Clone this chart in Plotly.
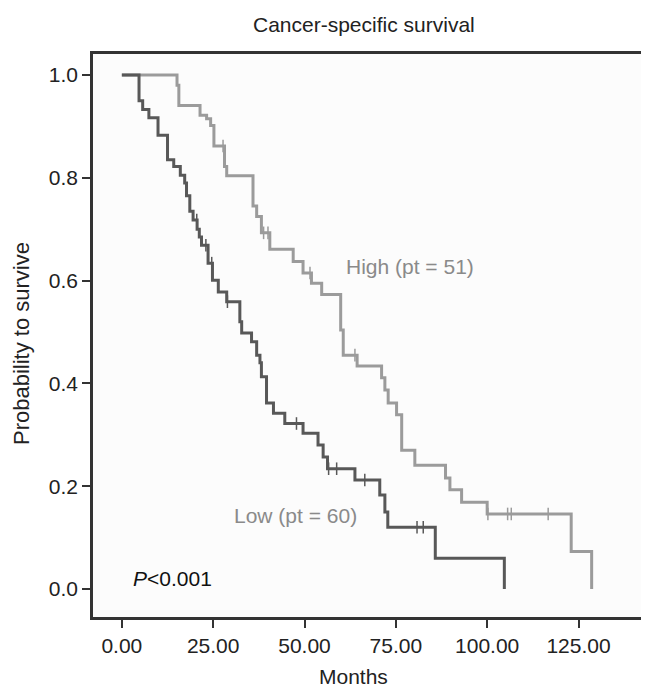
import plotly.graph_objects as go

# ---- data ----
high_t = [15.1, 15.6, 21.4, 23.2, 24.3, 25.2, 28.1, 28.7, 35.9, 36.9, 38.2, 40.5,
          46.9, 49.6, 51.9, 54.7, 59.9, 60.6, 64.4, 71.1, 72.0, 72.9, 75.2, 76.6,
          80.2, 88.6, 89.8, 93.0, 100.0, 123.0, 128.6]
high_s = [0.980, 0.941, 0.922, 0.915, 0.902, 0.862, 0.822, 0.804, 0.745, 0.725, 0.693, 0.661,
          0.637, 0.615, 0.595, 0.573, 0.504, 0.455, 0.434, 0.411, 0.387, 0.362, 0.339, 0.270,
          0.241, 0.216, 0.193, 0.169, 0.146, 0.073, 0.0]
high_cens = [27.7, 38.8, 40.0, 51.5, 63.8, 100.2, 105.6, 106.6, 116.7]

low_t = [4.7, 5.7, 7.4, 9.9, 12.5, 14.2, 16.0, 17.2, 17.7, 18.6, 19.5, 20.6, 21.2,
         21.8, 23.6, 24.8, 26.4, 28.7, 32.3, 32.8, 35.5, 36.9, 37.8, 38.2, 39.6, 41.5,
         44.6, 49.6, 53.7, 55.1, 56.3, 63.8, 70.6, 72.0, 72.8, 85.8, 104.7]
low_s = [0.950, 0.933, 0.917, 0.883, 0.835, 0.822, 0.805, 0.790, 0.765, 0.735, 0.718, 0.700, 0.685,
         0.669, 0.634, 0.601, 0.578, 0.559, 0.520, 0.498, 0.481, 0.455, 0.440, 0.413, 0.362, 0.342,
         0.322, 0.303, 0.280, 0.257, 0.234, 0.212, 0.183, 0.150, 0.120, 0.060, 0.0]
low_cens = [20.5, 23.0, 24.6, 28.9, 47.8, 56.6, 58.8, 66.5, 80.8, 82.5]

x_ticks = [0, 25, 50, 75, 100, 125]
y_ticks = [0.0, 0.2, 0.4, 0.6, 0.8, 1.0]

HIGH_COL = "#9b9b9b"
LOW_COL = "#585858"
FONT = "Liberation Sans, Arial, sans-serif"
FS = 21


def surv_at(t, times, surv):
    s = 1.0
    for ti, si in zip(times, surv):
        if ti <= t:
            s = si
    return s


fig = go.Figure()
for times, surv, cens, col in [(high_t, high_s, high_cens, HIGH_COL),
                               (low_t, low_s, low_cens, LOW_COL)]:
    fig.add_trace(go.Scatter(x=[0] + times, y=[1.0] + surv, mode="lines",
                             line=dict(color=col, width=3, shape="hv"),
                             showlegend=False, hoverinfo="skip"))
    fig.add_trace(go.Scatter(x=cens, y=[surv_at(c, times, surv) for c in cens],
                             mode="markers",
                             marker=dict(symbol="line-ns", size=9,
                                         line=dict(color=col, width=1.5)),
                             showlegend=False, hoverinfo="skip"))

OFF = 8  # page body margin
W, H = 649 - OFF, 690 - OFF
L, R, T, B = 93 - OFF, 0, 54 - OFF, 690 - 617
pw, ph = W - L - R, H - T - B


def px2paper_x(px):
    return (px - OFF - L) / pw


def px2paper_y(py):
    return (H - B - (py - OFF)) / ph


ann = [
    dict(text="Cancer-specific survival", x=px2paper_x(364), y=px2paper_y(25),
         font=dict(size=FS, color="#222222")),
    dict(text="Months", x=px2paper_x(353), y=px2paper_y(676),
         font=dict(size=FS, color="#222222")),
    dict(text="Probability to survive", x=px2paper_x(22), y=px2paper_y(344),
         textangle=-90, font=dict(size=22, color="#222222")),
    dict(text="High (pt = 51)", x=px2paper_x(344), y=px2paper_y(266), xanchor="left",
         font=dict(size=FS, color="#8a8a8a")),
    dict(text="Low (pt = 60)", x=px2paper_x(232), y=px2paper_y(515), xanchor="left",
         font=dict(size=FS, color="#8a8a8a")),
    dict(text="<i>P</i><0.001", x=px2paper_x(131), y=px2paper_y(578), xanchor="left",
         font=dict(size=FS, color="#111111")),
]
for a in ann:
    a.update(xref="paper", yref="paper", showarrow=False)
    a.setdefault("xanchor", "center")
    a["yanchor"] = "middle"

fig.update_layout(
    width=W, height=H,
    margin=dict(l=L, r=R, t=T, b=B),
    paper_bgcolor="white", plot_bgcolor="#fcfcfc",
    font=dict(family=FONT, size=FS, color="#222222"),
    annotations=ann,
    xaxis=dict(range=[-7.9, 144.3], tickvals=x_ticks, tickformat=".2f",
               showgrid=False, zeroline=False, showline=True, linecolor="#333333",
               linewidth=2.5, mirror=True, ticks="outside", ticklen=8, tickwidth=1.5,
               tickcolor="#333333", tickfont=dict(size=FS, color="#222222")),
    yaxis=dict(range=[-0.0545, 1.041], tickvals=y_ticks, tickformat=".1f",
               showgrid=False, zeroline=False, showline=True, linecolor="#333333",
               linewidth=2.5, ticks="outside", ticklen=8, tickwidth=1.5,
               tickcolor="#333333", tickfont=dict(size=FS, color="#222222")),
)

fig.write_html("out.html")
